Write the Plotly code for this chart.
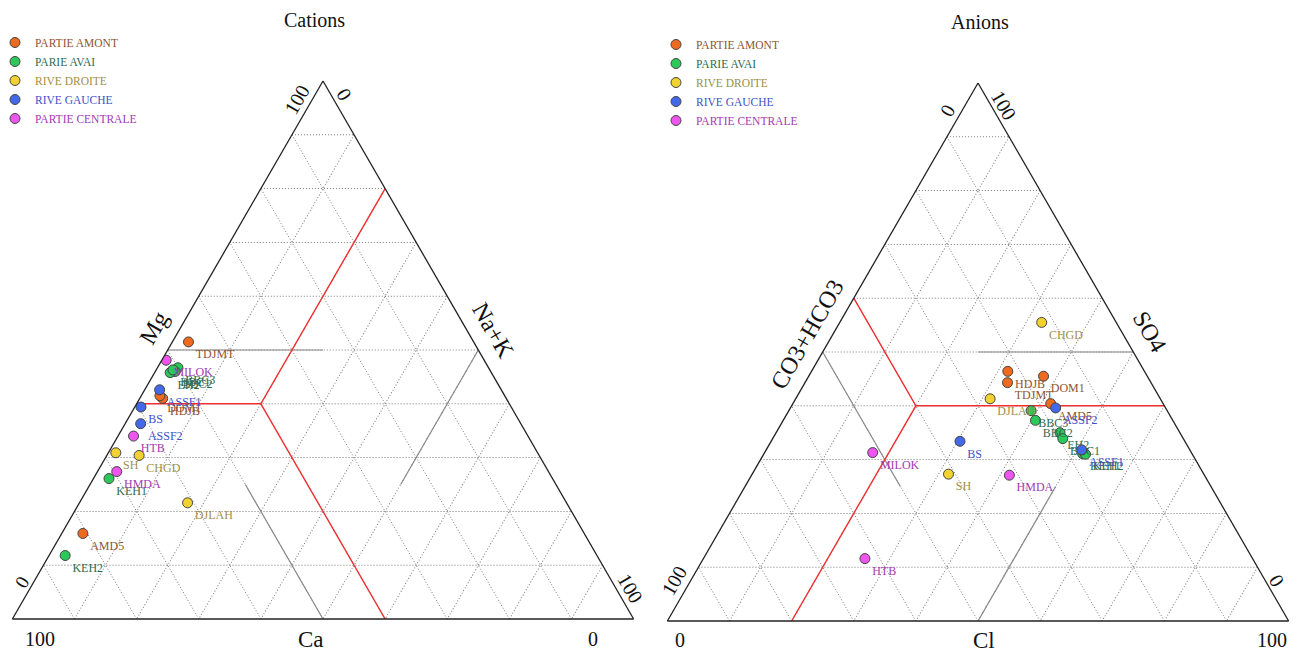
import math
import plotly.graph_objects as go

# ---------------- DATA ----------------
groups = ["PARTIE AMONT", "PARIE AVAI", "RIVE DROITE", "RIVE GAUCHE", "PARTIE CENTRALE"]

# Cations (%): Ca, Mg, Na+K
cat_names = {
    "PARTIE AMONT": ["TDJMT", "HDJB", "DOM1", "AMD5"],
    "PARIE AVAI": ["BBC3", "BBC2", "EH2", "BBC1", "KEH1", "KEH2"],
    "RIVE DROITE": ["CHGD", "SH", "DJLAH"],
    "RIVE GAUCHE": ["ASSF1", "ASSF2", "BS"],
    "PARTIE CENTRALE": ["MILOK", "HTB", "HMDA"],
}
cat_mg = {
    "PARTIE AMONT": [51.5, 41.0, 41.5, 15.9],
    "PARIE AVAI": [46.7, 46.0, 45.8, 46.3, 26.1, 11.8],
    "RIVE DROITE": [30.4, 30.9, 21.6],
    "RIVE GAUCHE": [42.6, 36.3, 39.4],
    "PARTIE CENTRALE": [48.1, 34.0, 27.4],
}
cat_na = {
    "PARTIE AMONT": [2.6, 3.7, 3.0, 3.4],
    "PARIE AVAI": [3.3, 3.2, 2.5, 2.7, 2.5, 2.6],
    "RIVE DROITE": [5.2, 1.2, 17.4],
    "RIVE GAUCHE": [2.4, 2.5, 1.0],
    "PARTIE CENTRALE": [0.7, 2.5, 3.1],
}
cat_ca = {
    "PARTIE AMONT": [45.9, 55.3, 55.5, 80.7],
    "PARIE AVAI": [50.0, 50.8, 51.7, 51.0, 71.4, 85.6],
    "RIVE DROITE": [64.4, 67.9, 61.0],
    "RIVE GAUCHE": [55.0, 61.2, 59.6],
    "PARTIE CENTRALE": [51.2, 63.5, 69.5],
}

# Anions (%): CO3+HCO3, SO4, Cl
an_names = {
    "PARTIE AMONT": ["HDJB", "TDJMT", "DOM1", "AMD5"],
    "PARIE AVAI": ["BBC3", "BBC2", "EH2", "BBC1", "KEH1", "KEH2"],
    "RIVE DROITE": ["CHGD", "DJLAH", "SH"],
    "RIVE GAUCHE": ["ASSF2", "ASSF1", "BS"],
    "PARTIE CENTRALE": ["MILOK", "HMDA", "HTB"],
}
an_so4 = {
    "PARTIE AMONT": [46.4, 44.3, 45.5, 40.4],
    "PARIE AVAI": [39.1, 37.3, 35.0, 33.9, 31.1, 31.0],
    "RIVE DROITE": [55.5, 41.3, 27.3],
    "RIVE GAUCHE": [39.6, 31.8, 33.4],
    "PARTIE CENTRALE": [31.3, 27.1, 11.6],
}
an_cl = {
    "PARTIE AMONT": [31.6, 32.6, 37.8, 41.5],
    "PARIE AVAI": [39.0, 40.6, 45.7, 46.7, 51.3, 51.8],
    "RIVE DROITE": [32.5, 31.3, 31.6],
    "RIVE GAUCHE": [42.7, 50.8, 30.4],
    "PARTIE CENTRALE": [17.4, 41.5, 26.0],
}
an_co3 = {
    "PARTIE AMONT": [22.0, 23.1, 16.7, 18.1],
    "PARIE AVAI": [21.9, 22.1, 19.3, 19.4, 17.6, 17.2],
    "RIVE DROITE": [12.0, 27.4, 41.1],
    "RIVE GAUCHE": [17.7, 17.4, 36.2],
    "PARTIE CENTRALE": [51.3, 31.4, 62.4],
}

# Classification lines (%), None = break
cat_red_ca = [60, 40, 0, None, 40, 40]
cat_red_mg = [40, 40, 80, None, 40, 0]
cat_red_na = [0, 20, 20, None, 20, 60]
cat_gray_ca = [50, 25, None, 50, 50, None, 0, 25]
cat_gray_mg = [50, 50, None, 0, 25, None, 50, 25]
cat_gray_na = [0, 25, None, 50, 25, None, 50, 50]

an_red_co3 = [0, 40, 40, None, 40, 80]
an_red_so4 = [40, 40, 60, None, 40, 0]
an_red_cl = [60, 20, 0, None, 20, 20]
an_gray_co3 = [0, 25, None, 50, 50, None, 50, 25]
an_gray_so4 = [50, 50, None, 50, 25, None, 0, 25]
an_gray_cl = [50, 25, None, 0, 25, None, 50, 50]

# ---------------- STYLE ----------------
marker_colors = {
    "PARTIE AMONT": "#EE6A1E",
    "PARIE AVAI": "#2DC85A",
    "RIVE DROITE": "#F2D230",
    "RIVE GAUCHE": "#4468EA",
    "PARTIE CENTRALE": "#EE55EE",
}
text_colors = {
    "PARTIE AMONT": "#8E5532",
    "PARIE AVAI": "#2F6B4F",
    "RIVE DROITE": "#9E9048",
    "RIVE GAUCHE": "#3F50C8",
    "PARTIE CENTRALE": "#A23AB2",
}
FONT = "Liberation Serif, Times New Roman, serif"

PAGE_OFF = 8                       # default body margin of the html page
W_FIG, H_FIG = 1298 - 2 * PAGE_OFF, 661 - 2 * PAGE_OFF
TRI_H = 538
TRI_W = TRI_H * 2 / math.sqrt(3)
LEFT_CX, LEFT_BOT = 323, 619       # page pixels
RIGHT_CX, RIGHT_BOT = 978, 621


def px(x):
    return (x - PAGE_OFF) / W_FIG


def py(y):
    return 1 - (y - PAGE_OFF) / H_FIG


def domain(cx, bottom):
    return dict(x=[max(0.0, px(cx - TRI_W / 2)), min(1.0, px(cx + TRI_W / 2))],
                y=[py(bottom), py(bottom - TRI_H)])


def tpos(cx, bottom, a, b, c):
    ax, ay = cx, bottom - TRI_H
    bx, by = cx - TRI_W / 2, bottom
    cx2, cy2 = cx + TRI_W / 2, bottom
    s = a + b + c
    x = (a * ax + b * bx + c * cx2) / s
    y = (a * ay + b * by + c * cy2) / s
    return px(x), py(y)


fig = go.Figure()

# classification lines
for sub, A, B, C, col, w in [
    ("ternary", cat_gray_mg, cat_gray_ca, cat_gray_na, "#8a8a8a", 1.2),
    ("ternary", cat_red_mg, cat_red_ca, cat_red_na, "#F03030", 1.4),
    ("ternary2", an_gray_so4, an_gray_co3, an_gray_cl, "#8a8a8a", 1.2),
    ("ternary2", an_red_so4, an_red_co3, an_red_cl, "#F03030", 1.4),
]:
    fig.add_trace(go.Scatterternary(a=A, b=B, c=C, mode="lines",
                                    line=dict(color=col, width=w), subplot=sub,
                                    showlegend=False, hoverinfo="skip", connectgaps=False))

for g in groups:
    label = f"<span style='color:{text_colors[g]}'>{g}</span>"
    common = dict(mode="markers+text", textposition="bottom right",
                  textfont=dict(family=FONT, size=12, color=text_colors[g]),
                  marker=dict(size=10, color=marker_colors[g], line=dict(color="#444", width=1)),
                  name=label)
    fig.add_trace(go.Scatterternary(a=cat_mg[g], b=cat_ca[g], c=cat_na[g], text=cat_names[g],
                                    subplot="ternary", legend="legend", **common))
    fig.add_trace(go.Scatterternary(a=an_so4[g], b=an_co3[g], c=an_cl[g], text=an_names[g],
                                    subplot="ternary2", legend="legend2", **common))


def axis():
    return dict(showticklabels=False, ticks="", title=dict(text=""),
                linecolor="#222", linewidth=1.3,
                showgrid=True, gridcolor="#7a7a7a", gridwidth=0.8, griddash="1px,2px",
                dtick=10, tick0=0, min=0)


ternary_common = dict(sum=100, bgcolor="white", aaxis=axis(), baxis=axis(), caxis=axis())

annos = []


def add_text(txt, cx, bottom, a, b, c, xs=0, ys=0, angle=0, size=20):
    x, y = tpos(cx, bottom, a, b, c)
    annos.append(dict(text=txt, x=x, y=y, xref="paper", yref="paper", showarrow=False,
                      xanchor="center", yanchor="middle",
                      xshift=xs, yshift=ys, textangle=angle,
                      font=dict(family=FONT, size=size, color="#111")))


def add_title(txt, xpage, ypage, size=20):
    annos.append(dict(text=txt, x=px(xpage), y=py(ypage), xref="paper", yref="paper",
                      showarrow=False, xanchor="center", yanchor="middle",
                      font=dict(family=FONT, size=size, color="#111")))


# Left (cations): a=Mg, b=Ca, c=Na+K
L = (LEFT_CX, LEFT_BOT)
add_title("Cations", 314, 20)
add_text("Mg", *L, 0.54, 0.46, 0, xs=-26, angle=-60, size=24)
add_text("Na+K", *L, 0.535, 0, 0.465, xs=26, angle=60, size=24)
add_text("Ca", *L, 0, 0.52, 0.48, ys=-20, size=23)
add_text("100", *L, 0.966, 0.034, 0, xs=-15, angle=-60, size=20)
add_text("0", *L, 0.975, 0, 0.025, xs=13, angle=60, size=20)
add_text("0", *L, 0.065, 0.935, 0, xs=-11, ys=2, angle=-60, size=19)
add_text("100", *L, 0, 1, 0, xs=28, ys=-20, size=20)
add_text("0", *L, 0, 0, 1, xs=-41, ys=-20, size=20)
add_text("100", *L, 0.057, 0, 0.943, xs=14, angle=60, size=20)

# Right (anions): a=SO4, b=CO3+HCO3, c=Cl
R = (RIGHT_CX, RIGHT_BOT)
add_title("Anions", 980, 22)
add_text("CO3+HCO3", *R, 0.534, 0.466, 0, xs=-26, angle=-60, size=24)
add_text("SO4", *R, 0.537, 0, 0.463, xs=28, angle=60, size=24)
add_text("Cl", *R, 0, 0.49, 0.51, ys=-19, size=23)
add_text("0", *R, 0.95, 0.05, 0, xs=-15, angle=-60, size=20)
add_text("100", *R, 0.959, 0, 0.041, xs=13, angle=60, size=20)
add_text("100", *R, 0.075, 0.925, 0, xs=-17, angle=-60, size=20)
add_text("0", *R, 0.075, 0, 0.925, xs=12, angle=60, size=20)
add_text("0", *R, 0, 1, 0, xs=13, ys=-19, size=20)
add_text("100", *R, 0, 0, 1, xs=-17, ys=-19, size=20)

legend_style = dict(font=dict(family=FONT, size=11.5, color="#333"), bgcolor="rgba(0,0,0,0)",
                    xanchor="left", yanchor="top", itemclick=False, tracegroupgap=0,
                    itemwidth=30)

fig.update_layout(
    width=W_FIG, height=H_FIG,
    margin=dict(l=0, r=0, t=0, b=0, autoexpand=False),
    paper_bgcolor="white", plot_bgcolor="white",
    ternary=dict(domain=domain(LEFT_CX, LEFT_BOT), **ternary_common),
    ternary2=dict(domain=domain(RIGHT_CX, RIGHT_BOT), **ternary_common),
    legend=dict(x=px(-5), y=py(28), **legend_style),
    legend2=dict(x=px(656), y=py(30), **legend_style),
    annotations=annos,
    font=dict(family=FONT),
)

fig.write_html("out.html")
